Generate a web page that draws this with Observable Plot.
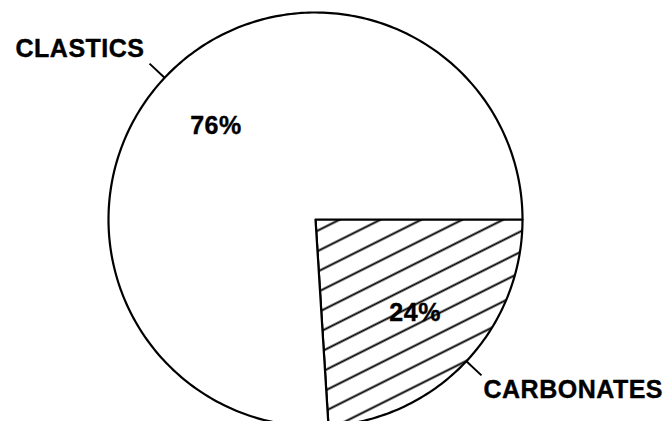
<!DOCTYPE html>
<html>
<head>
<meta charset="utf-8">
<script src="https://cdn.jsdelivr.net/npm/d3@7"></script>
<script src="https://cdn.jsdelivr.net/npm/@observablehq/plot@0.6"></script>
<style>
  html, body { margin: 0; padding: 0; background: #fff; }
  #chart { width: 670px; height: 421px; overflow: hidden; }
</style>
</head>
<body>
<svg width="0" height="0" style="position:absolute">
  <defs>
    <pattern id="hatch" patternUnits="userSpaceOnUse" x="0" y="9.15" width="40" height="18.3" patternTransform="rotate(-26.57)">
      <rect width="40" height="18.3" fill="#fff"></rect>
      <line x1="0" y1="9.15" x2="40" y2="9.15" stroke="#000" stroke-width="1.7"></line>
    </pattern>
  </defs>
</svg>
<div id="chart"></div>
<script>
// Data (clockwise from east)
const categories = ["CARBONATES", "CLASTICS"];
const shares = [24, 76];
const pctLabels = ["24%", "76%"];
const fills = ["url(#hatch)", "#fff"];

// Build slice geometry from the shares
const slices = [];
let a0 = 0;
categories.forEach((name, i) => {
  const span = shares[i] / 100 * 2 * Math.PI;
  const a1 = a0 - span;
  const n = Math.max(2, Math.ceil(span / (Math.PI / 180)));
  const pts = [{name, x: 0, y: 0}];
  for (let k = 0; k <= n; k++) {
    const a = a0 + (a1 - a0) * k / n;
    pts.push({name, x: Math.cos(a), y: Math.sin(a)});
  }
  pts.push({name, x: 0, y: 0});
  const mid = (a0 + a1) / 2;
  slices.push({name, pct: pctLabels[i], fill: fills[i], pts, mid});
  a0 = a1;
});

const labelInfo = slices.map(s => ({
  name: s.name, pct: s.pct,
  x1: Math.cos(s.mid), y1: Math.sin(s.mid),
  x2: 1.1 * Math.cos(s.mid), y2: 1.1 * Math.sin(s.mid),
  px: 0.66 * Math.cos(s.mid), py: 0.66 * Math.sin(s.mid)
}));

const cx = 315, cy = 219, R = 207;

const chart = Plot.plot({
  width: 670,
  height: 421,
  margin: 0,
  x: {domain: [-1, 1], range: [cx - R, cx + R], axis: null},
  y: {domain: [-1, 1], range: [cy + R, cy - R], axis: null},
  style: {fontFamily: "'Liberation Sans', Arial, Helvetica, sans-serif", background: "#fff", letterSpacing: "0.5px"},
  marks: [
    ...slices.map(s => Plot.line(s.pts, {x: "x", y: "y", fill: s.fill, stroke: "#000", strokeWidth: 2.2, strokeLinejoin: "round"})),
    Plot.link(labelInfo, {x1: "x1", y1: "y1", x2: "x2", y2: "y2", stroke: "#000", strokeWidth: 2}),
    Plot.text(labelInfo.filter(d => d.name === "CLASTICS"), {x: "x2", y: "y2", text: "name", textAnchor: "end", dx: -5, dy: -15, fontSize: 25, fontWeight: "bold", fill: "#000", stroke: "#000", strokeWidth: 0.4}),
    Plot.text(labelInfo.filter(d => d.name === "CARBONATES"), {x: "x2", y: "y2", text: "name", textAnchor: "start", dx: 2, dy: 15, fontSize: 25, fontWeight: "bold", fill: "#000", stroke: "#000", strokeWidth: 0.4}),
    Plot.text(labelInfo, {x: "px", y: "py", text: "pct", fontSize: 25, fontWeight: "bold", fill: "#000", stroke: "#000", strokeWidth: 0.4})
  ]
});
document.getElementById("chart").appendChild(chart);
</script>
</body>
</html>
